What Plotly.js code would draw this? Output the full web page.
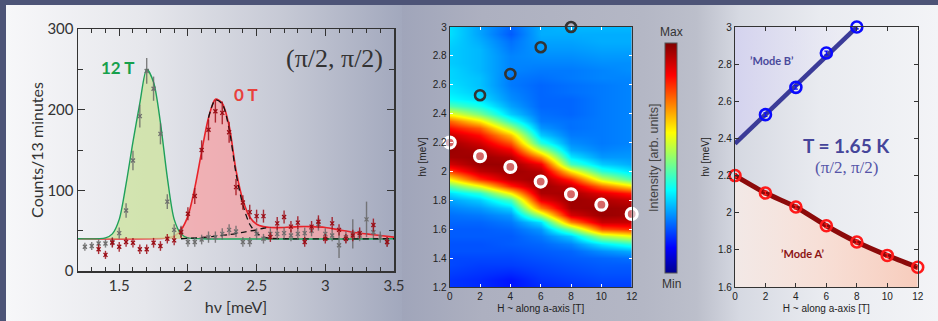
<!DOCTYPE html>
<html>
<head>
<meta charset="utf-8">
<script src="https://cdn.plot.ly/plotly-3.0.1.min.js"></script>
<style>
html,body{margin:0;padding:0;}
#wrap{position:relative;width:938px;height:321px;background:#4d5477;overflow:hidden;}
.bg{position:absolute;}
#chart{position:absolute;left:0;top:0;width:938px;height:321px;}
</style>
</head>
<body>
<div id="wrap">
  <div class="bg" style="left:6px;top:5px;width:396px;height:316px;background:linear-gradient(to right,#f7f7f9 0%,#e6e7ec 35%,#c6c9d5 70%,#a2a8bd 100%);"></div>
  <div class="bg" style="left:402px;top:5px;width:536px;height:316px;background:linear-gradient(to right,#a0a5ba 0%,#adb0c0 15%,#b4b7c5 45%,#bcbfcb 55%,#d6d9e2 63%,#e9ebf0 78%,#f3f4f7 100%);"></div>
  <div id="chart"></div>
</div>
<script>
// ---------------- Panel 1: spectra ----------------
const grayX = [1.25,1.30,1.35,1.40,1.45,1.50,1.55,1.60,1.65,1.70,1.75,1.80,1.85,1.90,1.95,2.00,2.05,2.10,2.15,2.20,2.25,2.30,2.35,2.40,2.45,2.50,2.55,2.60,2.65,2.70,2.75,2.80,2.85,2.90,2.95,3.00,3.05,3.10,3.15,3.20,3.25,3.30,3.35,3.40,3.45];
const grayY = [30,31,34,34,36,47,75,137,192,248,226,170,86,51,49,36,36,39,42,42,46,51,49,36,36,46,40,46,46,47,44,46,47,50,58,46,44,32,42,46,44,64,48,42,36];
const grayErr = [5,5,5,5,6,7,9,12,14,16,15,13,9,7,7,6,6,6,7,7,7,7,7,6,6,7,6,7,7,7,7,7,7,7,8,7,7,16,7,18,7,22,7,7,6];

const redX = [1.35,1.40,1.45,1.50,1.55,1.60,1.65,1.70,1.75,1.80,1.85,1.90,1.95,2.00,2.05,2.10,2.15,2.20,2.25,2.30,2.35,2.40,2.45,2.50,2.55,2.60,2.65,2.70,2.75,2.80,2.85,2.90,2.95,3.00,3.05,3.10,3.15,3.20,3.25,3.35,3.45];
const redY = [27,20,35,30,36,35,27,27,35,31,40,38,48,71,93,150,175,198,196,172,104,85,73,68,68,42,59,67,55,60,36,55,61,40,59,51,40,44,47,57,36];
const redErr = [6,5,6,6,6,6,6,6,6,6,6,6,7,8,10,12,13,14,14,13,10,9,9,8,8,6,8,8,7,8,6,7,8,6,8,7,6,7,7,8,6];

const baseX = [1.2,3.5];
const baseY = [40,40];

const fit12X = [1.2,1.4,1.45,1.5,1.55,1.6,1.65,1.7,1.75,1.8,1.85,1.9,1.95,2.0,2.1,3.5];
const fit12Y = [40,41,46,64,108,160,208,250,234,184,116,64,46,41,40,40];

const fit0X = [1.2,1.85,1.9,1.95,2.0,2.05,2.1,2.15,2.2,2.25,2.3,2.35,2.4,2.45,2.5,2.55,2.6,2.7,2.8,2.9,3.0,3.1,3.2,3.3,3.4,3.5];
const fit0Y = [40,41,43,51,68,103,148,190,213,208,180,125,88,67,58,55,54,54,55,55,54,51,48,46,44,42];

const peakCompX = [2.15,2.2,2.25,2.3,2.35,2.4,2.45,2.5,2.55,2.6,2.7,3.5];
const peakCompY = [190,212,207,176,121,82,58,47,42,40.5,40,40];
const contCompX = [1.95,2.0,2.1,2.2,2.3,2.4,2.5,2.55,2.6];
const contCompY = [40,40.5,41.5,43,45,48,51,53,54];

// ---------------- Panel 2: intensity map ----------------
const fieldH = [0,2,4,6,8,10,12];
const energyGrid = [1.20,1.25,1.30,1.35,1.40,1.45,1.50,1.55,1.60,1.65,1.70,1.75,1.80,1.85,1.90,1.95,2.00,2.05,2.10,2.15,2.20,2.25,2.30,2.35,2.40,2.45,2.50,2.55,2.60,2.65,2.70,2.75,2.80,2.85,2.90,2.95,3.00];
const zH0  = [0.16,0.16,0.17,0.18,0.18,0.19,0.19,0.20,0.20,0.21,0.22,0.24,0.27,0.33,0.45,0.62,0.80,0.91,0.96,0.97,0.96,0.92,0.85,0.76,0.60,0.44,0.36,0.34,0.33,0.32,0.32,0.31,0.31,0.31,0.32,0.33,0.33];
const zH2  = [0.15,0.15,0.16,0.17,0.18,0.19,0.19,0.20,0.20,0.21,0.23,0.26,0.31,0.40,0.60,0.82,0.93,0.97,0.97,0.95,0.91,0.85,0.77,0.63,0.48,0.38,0.33,0.31,0.30,0.30,0.29,0.29,0.29,0.29,0.28,0.27,0.27];
const zH4  = [0.13,0.13,0.15,0.17,0.18,0.19,0.20,0.20,0.21,0.23,0.26,0.32,0.43,0.62,0.83,0.94,0.97,0.97,0.94,0.87,0.78,0.67,0.53,0.40,0.31,0.27,0.25,0.24,0.23,0.23,0.24,0.24,0.24,0.23,0.22,0.20,0.21];
const zH6  = [0.15,0.16,0.17,0.18,0.19,0.20,0.21,0.23,0.26,0.33,0.53,0.73,0.88,0.95,0.97,0.97,0.94,0.87,0.72,0.55,0.40,0.31,0.26,0.23,0.22,0.21,0.21,0.21,0.21,0.22,0.23,0.24,0.25,0.26,0.27,0.28,0.28];
const zH8  = [0.16,0.17,0.18,0.19,0.20,0.21,0.24,0.31,0.48,0.73,0.90,0.96,0.97,0.96,0.92,0.82,0.63,0.43,0.34,0.28,0.25,0.23,0.22,0.22,0.21,0.21,0.21,0.22,0.22,0.23,0.23,0.24,0.25,0.26,0.27,0.28,0.29];
const zH10 = [0.17,0.18,0.19,0.20,0.21,0.25,0.34,0.53,0.78,0.92,0.97,0.97,0.95,0.89,0.75,0.56,0.40,0.31,0.26,0.24,0.23,0.23,0.23,0.23,0.23,0.23,0.23,0.23,0.23,0.24,0.24,0.25,0.26,0.27,0.28,0.28,0.29];
const zH12 = [0.17,0.18,0.19,0.20,0.22,0.28,0.40,0.60,0.82,0.92,0.96,0.96,0.92,0.83,0.63,0.43,0.33,0.28,0.26,0.25,0.24,0.24,0.24,0.24,0.24,0.24,0.24,0.24,0.24,0.24,0.25,0.25,0.26,0.27,0.28,0.28,0.29];

// ---------------- Panel 3: dispersion ----------------
const modeH_A = [0,2,4,6,8,10,12];
const modeE_A = [2.20,2.106,2.031,1.93,1.842,1.77,1.706];
const modeH_B = [2,4,6,8];
const modeE_B = [2.528,2.675,2.86,3.0];
const fitH_B = [0,8];
const fitE_B = [2.372,3.0];
const topH_B = [0,8];
const topE_B = [3,3];
const errA = [0.01,0.01,0.01,0.01,0.01,0.01,0.01];
const errB = [0.01,0.01,0.01,0.01];

// build heat-map table (rows = energies, cols = fields)
const zCols = [zH0,zH2,zH4,zH6,zH8,zH10,zH12];
const zTable = energyGrid.map((e,i)=>zCols.map(c=>c[i]));

const jet = [[0,'#00008f'],[0.11,'#0000ff'],[0.36,'#00ffff'],[0.61,'#ffff00'],[0.86,'#ff0000'],[1,'#7f0000']];

const traces = [
  // panel 1
  {x:baseX,y:baseY,xaxis:'x',yaxis:'y',mode:'lines',line:{width:0},hoverinfo:'skip'},
  {x:fit0X,y:fit0Y,xaxis:'x',yaxis:'y',mode:'lines',fill:'tonexty',fillcolor:'rgba(248,160,162,0.72)',
   line:{color:'#e8232a',width:1.6,shape:'spline',smoothing:0.8}},
  {x:baseX,y:baseY,xaxis:'x',yaxis:'y',mode:'lines',line:{width:0},hoverinfo:'skip'},
  {x:fit12X,y:fit12Y,xaxis:'x',yaxis:'y',mode:'lines',fill:'tonexty',fillcolor:'rgba(205,226,160,0.8)',
   line:{color:'#1ea05a',width:1.4,shape:'spline',smoothing:0.8}},
  {x:peakCompX,y:peakCompY,xaxis:'x',yaxis:'y',mode:'lines',line:{color:'#111',width:1.3,dash:'6px,4px',shape:'spline',smoothing:0.8}},
  {x:contCompX,y:contCompY,xaxis:'x',yaxis:'y',mode:'lines',line:{color:'#111',width:1.3,dash:'6px,4px',shape:'spline',smoothing:0.8}},
  {x:grayX,y:grayY,xaxis:'x',yaxis:'y',mode:'markers',marker:{symbol:'x-thin',size:4,color:'#6e6e6e',line:{color:'#6e6e6e',width:1.3}},
   error_y:{type:'data',array:grayErr,color:'rgba(100,100,100,0.8)',thickness:1.4,width:0}},
  {x:redX,y:redY,xaxis:'x',yaxis:'y',mode:'markers',marker:{symbol:'x-thin',size:4,color:'#9a0c14',line:{color:'#9a0c14',width:1.3}},
   error_y:{type:'data',array:redErr,color:'rgba(160,15,25,0.85)',thickness:1.4,width:0}},
  // panel 2
  {type:'heatmap',x:fieldH,y:energyGrid,z:zTable,xaxis:'x2',yaxis:'y2',zsmooth:'best',zmin:0,zmax:1,colorscale:jet,
   colorbar:{x:665/938,xanchor:'left',y:1-158/321,yanchor:'middle',len:230,lenmode:'pixels',thickness:12,
             outlinewidth:1,outlinecolor:'#555',showticklabels:false,ticks:'',xpad:0,ypad:0}},
  {x:modeH_B,y:modeE_B,xaxis:'x2',yaxis:'y2',mode:'markers',cliponaxis:false,
   marker:{symbol:'circle-open',size:10,color:'#333',line:{color:'#333',width:2.6}}},
  {x:modeH_A,y:modeE_A,xaxis:'x2',yaxis:'y2',mode:'markers',cliponaxis:false,
   marker:{symbol:'circle',size:11,color:'rgba(255,190,190,0.55)',line:{color:'#ffffff',width:3.2}}},
  // panel 3
  {x:topH_B,y:topE_B,xaxis:'x3',yaxis:'y3',mode:'lines',line:{width:0},hoverinfo:'skip'},
  {x:fitH_B,y:fitE_B,xaxis:'x3',yaxis:'y3',mode:'lines',fill:'tonexty',fillcolor:'rgba(215,213,240,0.6)',
   fillgradient:{type:'horizontal',colorscale:[[0,'rgba(212,210,240,0.9)'],[1,'rgba(238,238,248,0.4)']]},
   line:{color:'#3b3b98',width:4.5}},
  {x:modeH_A,y:modeE_A,xaxis:'x3',yaxis:'y3',mode:'lines',fill:'tozeroy',fillcolor:'rgba(250,215,200,0.7)',
   fillgradient:{type:'horizontal',colorscale:[[0,'rgba(252,238,232,0.75)'],[1,'rgba(248,200,182,0.9)']]},
   line:{color:'#8c0a0a',width:5,shape:'spline',smoothing:0.6},cliponaxis:true},
  {x:modeH_B,y:modeE_B,xaxis:'x3',yaxis:'y3',mode:'markers',cliponaxis:false,
   marker:{symbol:'circle-open',size:11,color:'#0a0aff',line:{color:'#0a0aff',width:2.6}},
   error_y:{type:'data',array:errB,color:'#0a0aff',thickness:1.2,width:2}},
  {x:modeH_A,y:modeE_A,xaxis:'x3',yaxis:'y3',mode:'markers',cliponaxis:false,
   marker:{symbol:'circle-open',size:11,color:'#ff1a1a',line:{color:'#ff1a1a',width:2.6}},
   error_y:{type:'data',array:errA,color:'#ff1a1a',thickness:1.2,width:2}}
];

const axCommon = {showline:true,linecolor:'#333',linewidth:1.2,mirror:'ticks',showgrid:false,zeroline:false,
  ticks:'inside',tickcolor:'#333'};
const smallFont = {family:'Liberation Sans, Arial, sans-serif',size:10,color:'#222'};

const layout = {
  width:938,height:321,autosize:false,
  margin:{l:0,r:0,t:0,b:0,pad:0},
  paper_bgcolor:'rgba(0,0,0,0)',plot_bgcolor:'rgba(0,0,0,0)',
  showlegend:false,
  font:{family:'Lato, sans-serif',color:'#333'},
  xaxis:Object.assign({},axCommon,{domain:[78/938,394/938],anchor:'y',range:[1.2,3.5],dtick:0.5,tick0:0,ticklen:7,
    linewidth:1.5,tickfont:{family:'Lato, sans-serif',size:15,color:'#333'},
    minor:{dtick:0.1,ticks:'inside',ticklen:4,tickcolor:'#333'},
    title:{text:'hν [meV]',font:{family:'Lato, sans-serif',size:16,color:'#333'},standoff:9}}),
  yaxis:Object.assign({},axCommon,{domain:[1-271/321,1-29/321],anchor:'x',range:[0,300],dtick:100,ticklen:7,
    linewidth:1.5,tickfont:{family:'Lato, sans-serif',size:15,color:'#333'},
    minor:{dtick:50,ticks:'inside',ticklen:5,tickcolor:'#333'},
    title:{text:'Counts/13 minutes',font:{family:'Lato, sans-serif',size:16,color:'#333'},standoff:0}}),
  xaxis2:Object.assign({},axCommon,{domain:[449.7/938,631.7/938],anchor:'y2',range:[0,12],dtick:2,ticklen:3,
    tickcolor:'#ffffff',linewidth:1,tickfont:smallFont,
    title:{text:'H ~ along a-axis [T]',font:smallFont,standoff:3}}),
  yaxis2:Object.assign({},axCommon,{domain:[1-287/321,1-27/321],anchor:'x2',range:[1.2,3],dtick:0.2,ticklen:3,
    tickcolor:'#ffffff',linewidth:1,tickfont:smallFont,
    title:{text:'hν [meV]',font:smallFont,standoff:4}}),
  xaxis3:Object.assign({},axCommon,{domain:[735/938,917.7/938],anchor:'y3',range:[0,12],dtick:2,ticklen:4,
    linewidth:1.2,tickfont:smallFont,
    title:{text:'H ~ along a-axis [T]',font:smallFont,standoff:3}}),
  yaxis3:Object.assign({},axCommon,{domain:[1-287/321,1-27/321],anchor:'x3',range:[1.6,3],dtick:0.2,ticklen:4,
    linewidth:1.2,tickfont:smallFont,
    title:{text:'hν [meV]',font:smallFont,standoff:6}}),
  annotations:[
    {xref:'x',yref:'y',x:1.49,y:252,text:'<b>12 T</b>',showarrow:false,font:{family:'Lato, sans-serif',size:17,color:'#17a04c'}},
    {xref:'x',yref:'y',x:2.42,y:219,text:'<b>0 T</b>',showarrow:false,font:{family:'Lato, sans-serif',size:17,color:'#e8413c'}},
    {xref:'x',yref:'y',x:3.07,y:264,text:'(π/2, π/2)',showarrow:false,font:{family:'Liberation Serif, serif',size:26,color:'#333'}},
    {xref:'paper',yref:'paper',x:671/938,y:1-32/321,xanchor:'center',yanchor:'middle',text:'Max',showarrow:false,font:{family:'Liberation Sans, Arial, sans-serif',size:12,color:'#333'}},
    {xref:'paper',yref:'paper',x:671/938,y:1-284/321,xanchor:'center',yanchor:'middle',text:'Min',showarrow:false,font:{family:'Liberation Sans, Arial, sans-serif',size:12,color:'#333'}},
    {xref:'paper',yref:'paper',x:654/938,y:1-158/321,xanchor:'center',yanchor:'middle',text:'Intensity [arb. units]',textangle:-90,showarrow:false,font:{family:'Liberation Sans, Arial, sans-serif',size:12.5,color:'#444'}},
    {xref:'x3',yref:'y3',x:2.45,y:2.82,text:'<b>’Mode B’</b>',showarrow:false,font:{family:'Lato, sans-serif',size:11,color:'#4a4a9c'}},
    {xref:'x3',yref:'y3',x:4.45,y:1.78,text:'<b>’Mode A’</b>',showarrow:false,font:{family:'Lato, sans-serif',size:11,color:'#8c1414'}},
    {xref:'x3',yref:'y3',x:7.35,y:2.36,text:'<b>T = 1.65 K</b>',showarrow:false,font:{family:'Lato, sans-serif',size:19,color:'#45459a'}},
    {xref:'x3',yref:'y3',x:7.3,y:2.245,text:'(π/2, π/2)',showarrow:false,font:{family:'Liberation Serif, serif',size:17,color:'#5555a8'}}
  ]
};

Plotly.newPlot('chart',traces,layout,{displayModeBar:false,staticPlot:true});
</script>
</body>
</html>
